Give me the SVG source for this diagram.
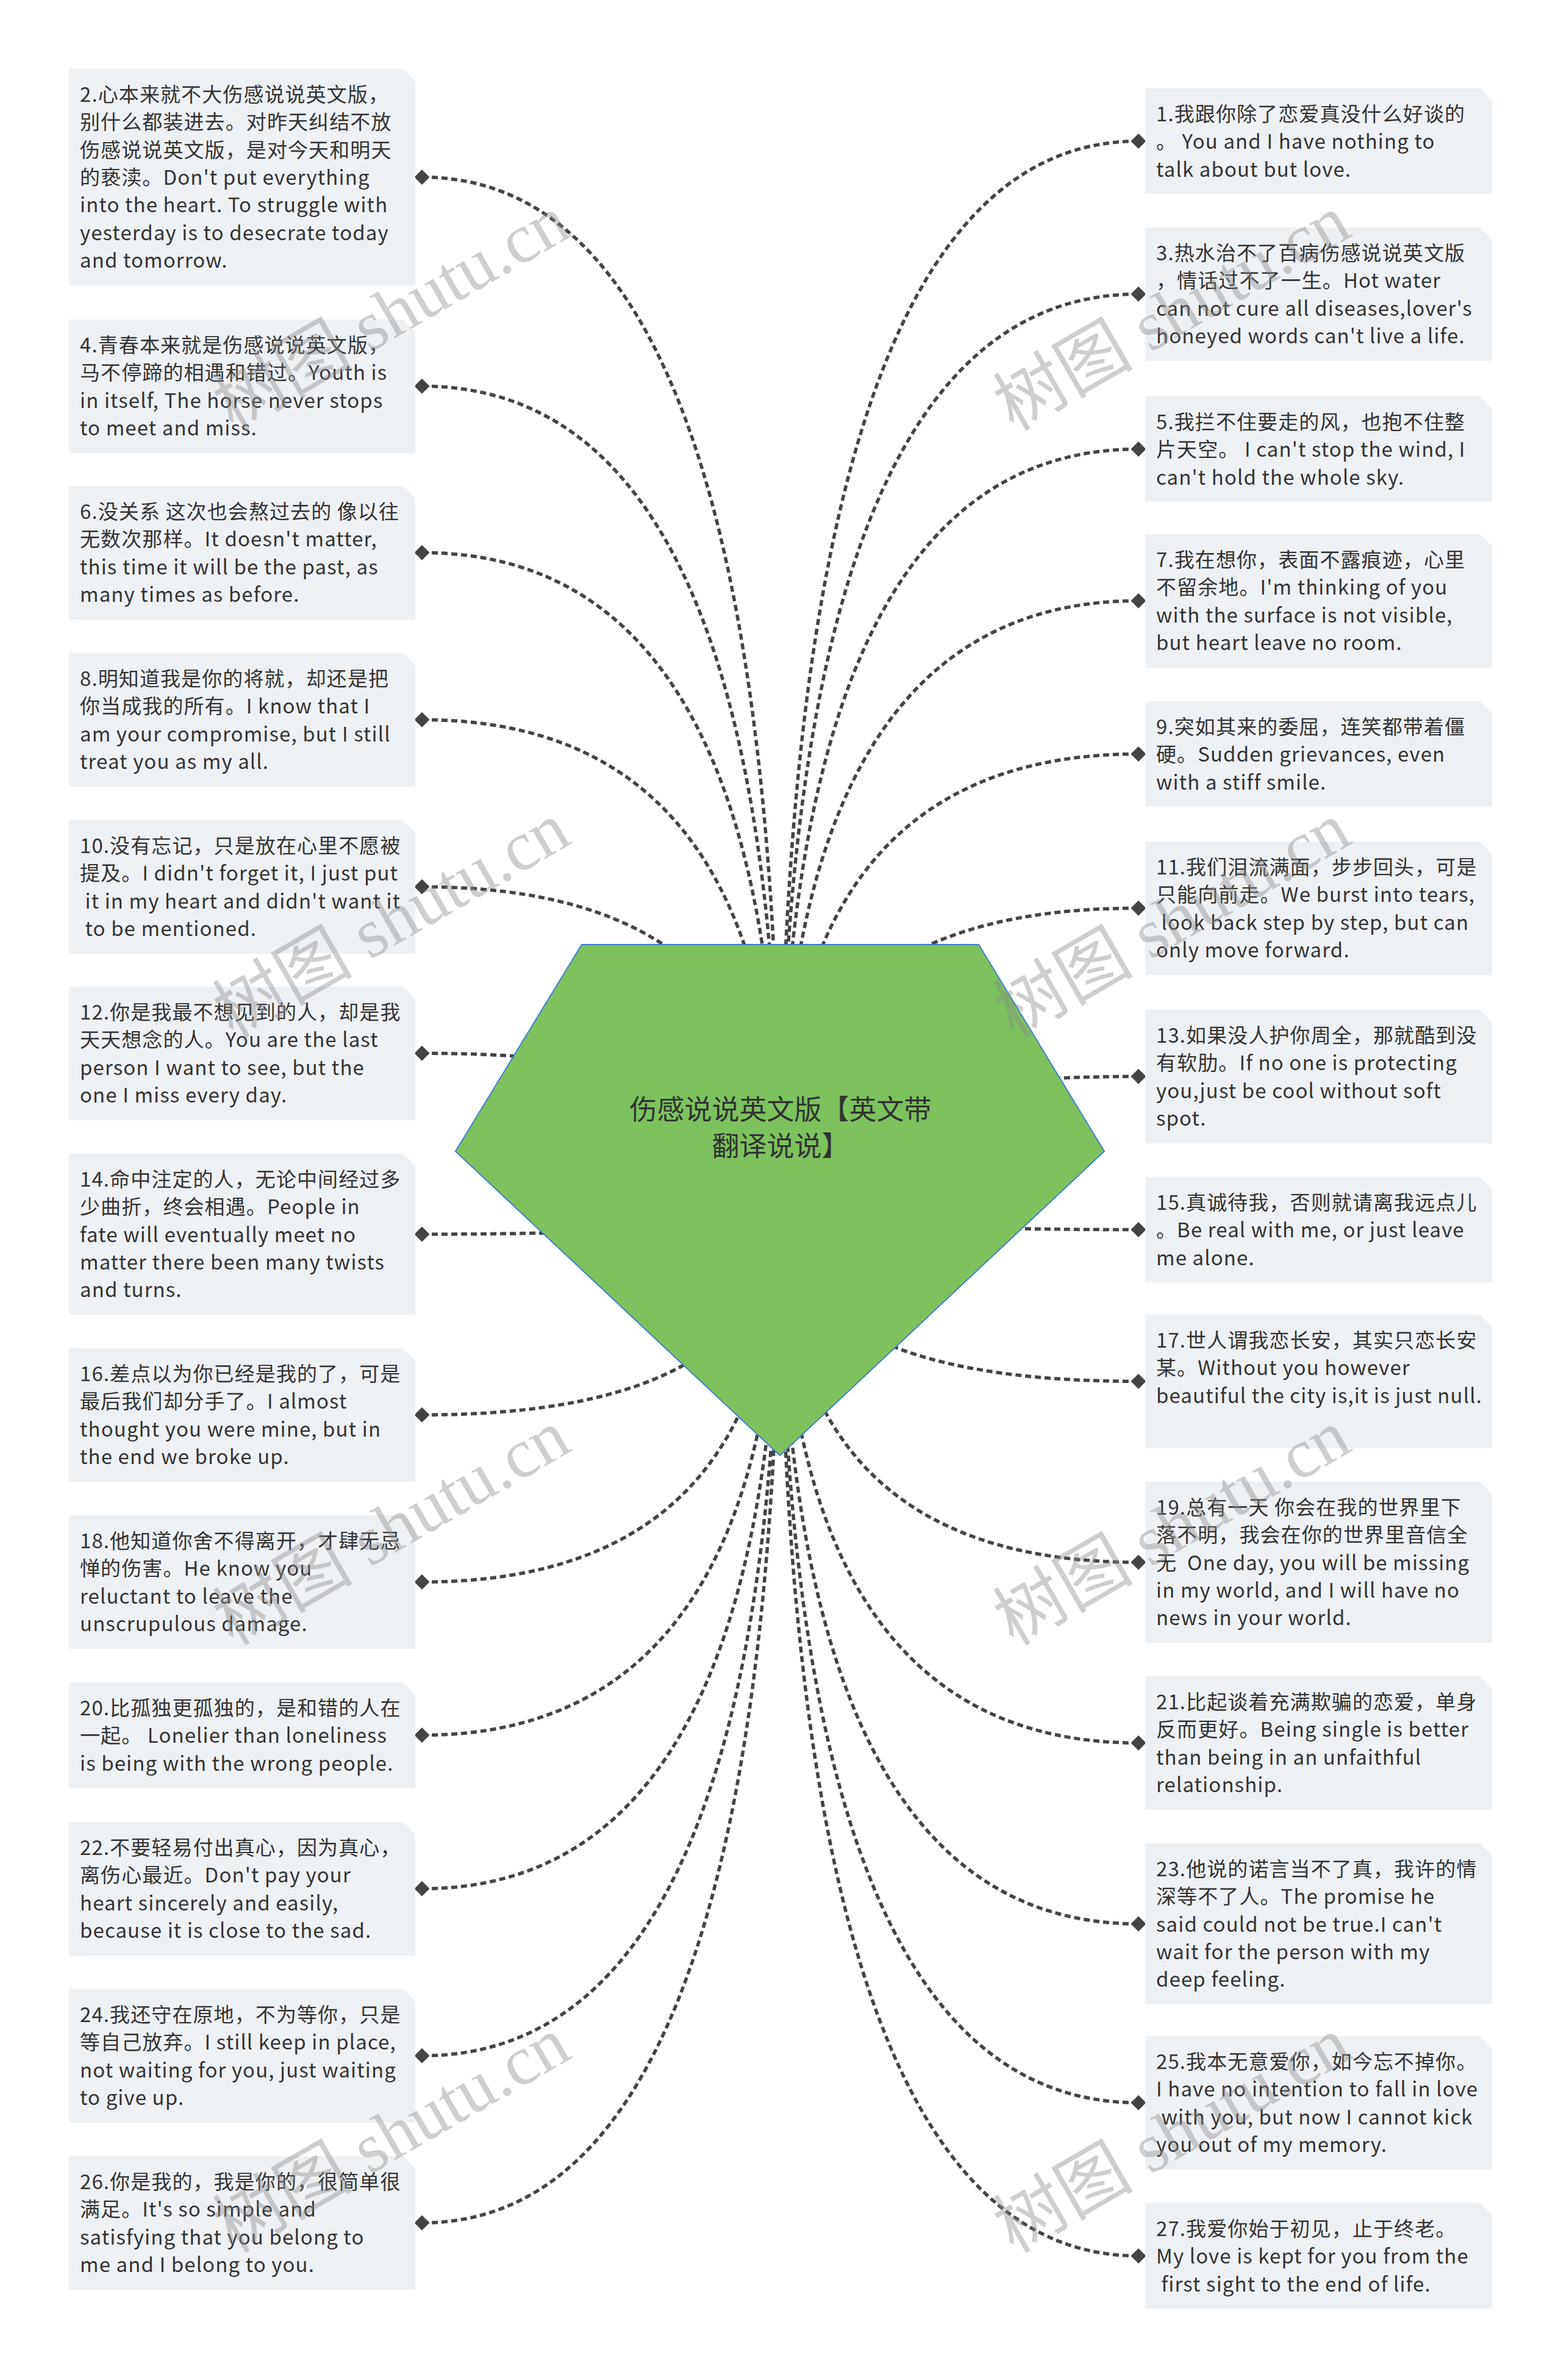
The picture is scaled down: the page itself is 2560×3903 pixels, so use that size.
<svg xmlns="http://www.w3.org/2000/svg" width="2560" height="3903" viewBox="0 0 2560 3903">
<defs>
<style>
.box{fill:#eef1f4;}
.t{font-family:"Noto Sans CJK SC","Noto Sans CJK JP",sans-serif;font-size:33px;letter-spacing:1.1px;fill:#333333;white-space:pre;}
.c{fill:none;stroke:#444444;stroke-width:5.5;stroke-dasharray:10 6;marker-start:url(#dia);}
.root{fill:#7dc25c;stroke:#3f7fcf;stroke-width:2;}
.rt{font-family:"Noto Sans CJK SC","Noto Sans CJK JP",sans-serif;font-size:45px;fill:#333333;text-anchor:middle;}
.wm{font-family:"Liberation Serif","Noto Sans CJK SC",serif;font-size:115px;fill:#8a8a8a;fill-opacity:0.42;}
</style>
<marker id="dia" viewBox="0 0 24 24" refX="12" refY="12" markerWidth="25" markerHeight="25" markerUnits="userSpaceOnUse" orient="0">
<path d="M0 12 L12 0 L24 12 L12 24 Z" fill="#444444"/>
</marker>
</defs>
<rect width="2560" height="3903" fill="#ffffff"/>

<g id="connectors">
<path class="c" d="M692,290.5 Q1279,290.5 1279,1968"/>
<path class="c" d="M692,633.3 Q1279,633.3 1279,1968"/>
<path class="c" d="M692,906.3 Q1279,906.3 1279,1968"/>
<path class="c" d="M692,1180.3 Q1279,1180.3 1279,1968"/>
<path class="c" d="M692,1454.3 Q1279,1454.3 1279,1968"/>
<path class="c" d="M692,1727.3 Q1279,1727.3 1279,1968"/>
<path class="c" d="M692,2024 Q1279,2024 1279,1968"/>
<path class="c" d="M692,2320.3 Q1279,2320.3 1279,1968"/>
<path class="c" d="M692,2594.3 Q1279,2594.3 1279,1968"/>
<path class="c" d="M692,2845.5 Q1279,2845.5 1279,1968"/>
<path class="c" d="M692,3097.3 Q1279,3097.3 1279,1968"/>
<path class="c" d="M692,3371.3 Q1279,3371.3 1279,1968"/>
<path class="c" d="M692,3645.3 Q1279,3645.3 1279,1968"/>
<path class="c" d="M1867,231.5 Q1279,231.5 1279,1968"/>
<path class="c" d="M1867,482.3 Q1279,482.3 1279,1968"/>
<path class="c" d="M1867,736.5 Q1279,736.5 1279,1968"/>
<path class="c" d="M1867,985.3 Q1279,985.3 1279,1968"/>
<path class="c" d="M1867,1236.5 Q1279,1236.5 1279,1968"/>
<path class="c" d="M1867,1489.3 Q1279,1489.3 1279,1968"/>
<path class="c" d="M1867,1765.3 Q1279,1765.3 1279,1968"/>
<path class="c" d="M1867,2016.5 Q1279,2016.5 1279,1968"/>
<path class="c" d="M1867,2265.3 Q1279,2265.3 1279,1968"/>
<path class="c" d="M1867,2562 Q1279,2562 1279,1968"/>
<path class="c" d="M1867,2858.3 Q1279,2858.3 1279,1968"/>
<path class="c" d="M1867,3155 Q1279,3155 1279,1968"/>
<path class="c" d="M1867,3448.3 Q1279,3448.3 1279,1968"/>
<path class="c" d="M1867,3699.5 Q1279,3699.5 1279,1968"/>
</g>

<g id="root">
<polygon class="root" points="954,1549 1605,1549 1811,1888 1279,2387 747,1888"/>
<text class="rt"><tspan x="1280" y="1836">伤感说说英文版【英文带</tspan><tspan x="1280" y="1896">翻译说说】</tspan></text>
</g>

<g id="n2"><path class="box" d="M113,113 H661 L681,133 V468 H113 Z"/>
<text class="t"><tspan x="131" y="166.7">2.心本来就不大伤感说说英文版，</tspan><tspan x="131" dy="45.4">别什么都装进去。对昨天纠结不放</tspan><tspan x="131" dy="45.4">伤感说说英文版，是对今天和明天</tspan><tspan x="131" dy="45.4">的亵渎。Don't put everything</tspan><tspan x="131" dy="45.4">into the heart. To struggle with</tspan><tspan x="131" dy="45.4">yesterday is to desecrate today</tspan><tspan x="131" dy="45.4">and tomorrow.</tspan></text></g>

<g id="n4"><path class="box" d="M113,524 H661 L681,544 V743 H113 Z"/>
<text class="t"><tspan x="131" y="577.7">4.青春本来就是伤感说说英文版，</tspan><tspan x="131" dy="45.4">马不停蹄的相遇和错过。Youth is</tspan><tspan x="131" dy="45.4">in itself, The horse never stops</tspan><tspan x="131" dy="45.4">to meet and miss.</tspan></text></g>

<g id="n6"><path class="box" d="M113,797 H661 L681,817 V1016 H113 Z"/>
<text class="t"><tspan x="131" y="850.7">6.没关系 这次也会熬过去的 像以往</tspan><tspan x="131" dy="45.4">无数次那样。It doesn't matter,</tspan><tspan x="131" dy="45.4">this time it will be the past, as</tspan><tspan x="131" dy="45.4">many times as before.</tspan></text></g>

<g id="n8"><path class="box" d="M113,1071 H661 L681,1091 V1290 H113 Z"/>
<text class="t"><tspan x="131" y="1124.7">8.明知道我是你的将就，却还是把</tspan><tspan x="131" dy="45.4">你当成我的所有。I know that I</tspan><tspan x="131" dy="45.4">am your compromise, but I still</tspan><tspan x="131" dy="45.4">treat you as my all.</tspan></text></g>

<g id="n10"><path class="box" d="M113,1345 H661 L681,1365 V1564 H113 Z"/>
<text class="t"><tspan x="131" y="1398.7">10.没有忘记，只是放在心里不愿被</tspan><tspan x="131" dy="45.4">提及。I didn't forget it, I just put</tspan><tspan x="131" dy="45.4"> it in my heart and didn't want it</tspan><tspan x="131" dy="45.4"> to be mentioned.</tspan></text></g>

<g id="n12"><path class="box" d="M113,1618 H661 L681,1638 V1837 H113 Z"/>
<text class="t"><tspan x="131" y="1671.7">12.你是我最不想见到的人，却是我</tspan><tspan x="131" dy="45.4">天天想念的人。You are the last</tspan><tspan x="131" dy="45.4">person I want to see, but the</tspan><tspan x="131" dy="45.4">one I miss every day.</tspan></text></g>

<g id="n14"><path class="box" d="M113,1892 H661 L681,1912 V2156 H113 Z"/>
<text class="t"><tspan x="131" y="1945.7">14.命中注定的人，无论中间经过多</tspan><tspan x="131" dy="45.4">少曲折，终会相遇。People in</tspan><tspan x="131" dy="45.4">fate will eventually meet no</tspan><tspan x="131" dy="45.4">matter there been many twists</tspan><tspan x="131" dy="45.4">and turns.</tspan></text></g>

<g id="n16"><path class="box" d="M113,2211 H661 L681,2231 V2430 H113 Z"/>
<text class="t"><tspan x="131" y="2264.7">16.差点以为你已经是我的了，可是</tspan><tspan x="131" dy="45.4">最后我们却分手了。I almost</tspan><tspan x="131" dy="45.4">thought you were mine, but in</tspan><tspan x="131" dy="45.4">the end we broke up.</tspan></text></g>

<g id="n18"><path class="box" d="M113,2485 H661 L681,2505 V2704 H113 Z"/>
<text class="t"><tspan x="131" y="2538.7">18.他知道你舍不得离开，才肆无忌</tspan><tspan x="131" dy="45.4">惮的伤害。He know you</tspan><tspan x="131" dy="45.4">reluctant to leave the</tspan><tspan x="131" dy="45.4">unscrupulous damage.</tspan></text></g>

<g id="n20"><path class="box" d="M113,2759 H661 L681,2779 V2932 H113 Z"/>
<text class="t"><tspan x="131" y="2812.7">20.比孤独更孤独的，是和错的人在</tspan><tspan x="131" dy="45.4">一起。 Lonelier than loneliness</tspan><tspan x="131" dy="45.4">is being with the wrong people.</tspan></text></g>

<g id="n22"><path class="box" d="M113,2988 H661 L681,3008 V3207 H113 Z"/>
<text class="t"><tspan x="131" y="3041.7">22.不要轻易付出真心，因为真心，</tspan><tspan x="131" dy="45.4">离伤心最近。Don't pay your</tspan><tspan x="131" dy="45.4">heart sincerely and easily,</tspan><tspan x="131" dy="45.4">because it is close to the sad.</tspan></text></g>

<g id="n24"><path class="box" d="M113,3262 H661 L681,3282 V3481 H113 Z"/>
<text class="t"><tspan x="131" y="3315.7">24.我还守在原地，不为等你，只是</tspan><tspan x="131" dy="45.4">等自己放弃。I still keep in place,</tspan><tspan x="131" dy="45.4">not waiting for you, just waiting</tspan><tspan x="131" dy="45.4">to give up.</tspan></text></g>

<g id="n26"><path class="box" d="M113,3536 H661 L681,3556 V3755 H113 Z"/>
<text class="t"><tspan x="131" y="3589.7">26.你是我的，我是你的，很简单很</tspan><tspan x="131" dy="45.4">满足。It's so simple and</tspan><tspan x="131" dy="45.4">satisfying that you belong to</tspan><tspan x="131" dy="45.4">me and I belong to you.</tspan></text></g>

<g id="n1"><path class="box" d="M1878,145 H2427 L2447,165 V318 H1878 Z"/>
<text class="t"><tspan x="1896" y="198.7">1.我跟你除了恋爱真没什么好谈的</tspan><tspan x="1896" dy="45.4">。 You and I have nothing to</tspan><tspan x="1896" dy="45.4">talk about but love.</tspan></text></g>

<g id="n3"><path class="box" d="M1878,373 H2427 L2447,393 V592 H1878 Z"/>
<text class="t"><tspan x="1896" y="426.7">3.热水治不了百病伤感说说英文版</tspan><tspan x="1896" dy="45.4">，情话过不了一生。Hot water</tspan><tspan x="1896" dy="45.4">can not cure all diseases,lover's</tspan><tspan x="1896" dy="45.4">honeyed words can't live a life.</tspan></text></g>

<g id="n5"><path class="box" d="M1878,650 H2427 L2447,670 V823 H1878 Z"/>
<text class="t"><tspan x="1896" y="703.7">5.我拦不住要走的风，也抱不住整</tspan><tspan x="1896" dy="45.4">片天空。 I can't stop the wind, I</tspan><tspan x="1896" dy="45.4">can't hold the whole sky.</tspan></text></g>

<g id="n7"><path class="box" d="M1878,876 H2427 L2447,896 V1095 H1878 Z"/>
<text class="t"><tspan x="1896" y="929.7">7.我在想你，表面不露痕迹，心里</tspan><tspan x="1896" dy="45.4">不留余地。I'm thinking of you</tspan><tspan x="1896" dy="45.4">with the surface is not visible,</tspan><tspan x="1896" dy="45.4">but heart leave no room.</tspan></text></g>

<g id="n9"><path class="box" d="M1878,1150 H2427 L2447,1170 V1323 H1878 Z"/>
<text class="t"><tspan x="1896" y="1203.7">9.突如其来的委屈，连笑都带着僵</tspan><tspan x="1896" dy="45.4">硬。Sudden grievances, even</tspan><tspan x="1896" dy="45.4">with a stiff smile.</tspan></text></g>

<g id="n11"><path class="box" d="M1878,1380 H2427 L2447,1400 V1599 H1878 Z"/>
<text class="t"><tspan x="1896" y="1433.7">11.我们泪流满面，步步回头，可是</tspan><tspan x="1896" dy="45.4">只能向前走。We burst into tears,</tspan><tspan x="1896" dy="45.4"> look back step by step, but can</tspan><tspan x="1896" dy="45.4">only move forward.</tspan></text></g>

<g id="n13"><path class="box" d="M1878,1656 H2427 L2447,1676 V1875 H1878 Z"/>
<text class="t"><tspan x="1896" y="1709.7">13.如果没人护你周全，那就酷到没</tspan><tspan x="1896" dy="45.4">有软肋。If no one is protecting</tspan><tspan x="1896" dy="45.4">you,just be cool without soft</tspan><tspan x="1896" dy="45.4">spot.</tspan></text></g>

<g id="n15"><path class="box" d="M1878,1930 H2427 L2447,1950 V2103 H1878 Z"/>
<text class="t"><tspan x="1896" y="1983.7">15.真诚待我，否则就请离我远点儿</tspan><tspan x="1896" dy="45.4">。Be real with me, or just leave</tspan><tspan x="1896" dy="45.4">me alone.</tspan></text></g>

<g id="n17"><path class="box" d="M1878,2156 H2427 L2447,2176 V2375 H1878 Z"/>
<text class="t"><tspan x="1896" y="2209.7">17.世人谓我恋长安，其实只恋长安</tspan><tspan x="1896" dy="45.4">某。Without you however</tspan><tspan x="1896" dy="45.4">beautiful the city is,it is just null.</tspan></text></g>

<g id="n19"><path class="box" d="M1878,2430 H2427 L2447,2450 V2694 H1878 Z"/>
<text class="t"><tspan x="1896" y="2483.7">19.总有一天 你会在我的世界里下</tspan><tspan x="1896" dy="45.4">落不明，我会在你的世界里音信全</tspan><tspan x="1896" dy="45.4">无  One day, you will be missing</tspan><tspan x="1896" dy="45.4">in my world, and I will have no</tspan><tspan x="1896" dy="45.4">news in your world.</tspan></text></g>

<g id="n21"><path class="box" d="M1878,2749 H2427 L2447,2769 V2968 H1878 Z"/>
<text class="t"><tspan x="1896" y="2802.7">21.比起谈着充满欺骗的恋爱，单身</tspan><tspan x="1896" dy="45.4">反而更好。Being single is better</tspan><tspan x="1896" dy="45.4">than being in an unfaithful</tspan><tspan x="1896" dy="45.4">relationship.</tspan></text></g>

<g id="n23"><path class="box" d="M1878,3023 H2427 L2447,3043 V3287 H1878 Z"/>
<text class="t"><tspan x="1896" y="3076.7">23.他说的诺言当不了真，我许的情</tspan><tspan x="1896" dy="45.4">深等不了人。The promise he</tspan><tspan x="1896" dy="45.4">said could not be true.I can't</tspan><tspan x="1896" dy="45.4">wait for the person with my</tspan><tspan x="1896" dy="45.4">deep feeling.</tspan></text></g>

<g id="n25"><path class="box" d="M1878,3339 H2427 L2447,3359 V3558 H1878 Z"/>
<text class="t"><tspan x="1896" y="3392.7">25.我本无意爱你，如今忘不掉你。</tspan><tspan x="1896" dy="45.4">I have no intention to fall in love</tspan><tspan x="1896" dy="45.4"> with you, but now I cannot kick</tspan><tspan x="1896" dy="45.4">you out of my memory.</tspan></text></g>

<g id="n27"><path class="box" d="M1878,3613 H2427 L2447,3633 V3786 H1878 Z"/>
<text class="t"><tspan x="1896" y="3666.7">27.我爱你始于初见，止于终老。</tspan><tspan x="1896" dy="45.4">My love is kept for you from the</tspan><tspan x="1896" dy="45.4"> first sight to the end of life.</tspan></text></g>

<g id="watermark">
<text class="wm" transform="translate(382,708) rotate(-30)">树图 shutu.cn</text>
<text class="wm" transform="translate(1662,708) rotate(-30)">树图 shutu.cn</text>
<text class="wm" transform="translate(382,1704) rotate(-30)">树图 shutu.cn</text>
<text class="wm" transform="translate(1662,1704) rotate(-30)">树图 shutu.cn</text>
<text class="wm" transform="translate(382,2700) rotate(-30)">树图 shutu.cn</text>
<text class="wm" transform="translate(1662,2700) rotate(-30)">树图 shutu.cn</text>
<text class="wm" transform="translate(382,3696) rotate(-30)">树图 shutu.cn</text>
<text class="wm" transform="translate(1662,3696) rotate(-30)">树图 shutu.cn</text>
</g>
</svg>
